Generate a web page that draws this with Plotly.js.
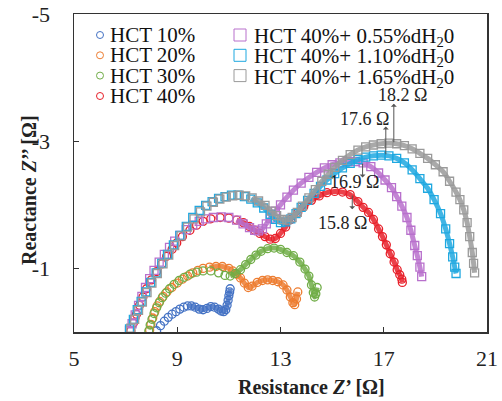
<!DOCTYPE html>
<html><head><meta charset="utf-8">
<script src="https://cdn.plot.ly/plotly-3.0.1.min.js"></script>
<style>html,body{margin:0;padding:0;background:#fff;}#chart{width:502px;height:401px;}</style>
</head><body><div id="chart"></div>
<script>
// ---- data ----
const seriesNames = ['HCT 10%','HCT 20%','HCT 30%','HCT 40%',
  'HCT 40%+ 0.55%dH<sub>2</sub>0','HCT 40%+ 1.10%dH<sub>2</sub>0','HCT 40%+ 1.65%dH<sub>2</sub>0'];

const hct10X = [8.2,8.35,8.5,8.65,8.8,8.95,9.1,9.25,9.4,9.55,9.7,9.85,10.0,10.15,10.3,10.45,10.6,10.7,10.8,10.88,10.93,10.97,11.0,11.03,11.05];
const hct10Y = [-0.02,-0.1,-0.17,-0.23,-0.28,-0.32,-0.36,-0.39,-0.41,-0.41,-0.39,-0.36,-0.35,-0.37,-0.4,-0.39,-0.36,-0.33,-0.32,-0.35,-0.42,-0.5,-0.57,-0.63,-0.68];

const hct20X = [7.93,7.98,8.05,8.13,8.22,8.32,8.45,8.6,8.79,9.0,9.2,9.4,9.6,9.8,10.0,10.25,10.5,10.75,11.0,11.15,11.3,11.45,11.6,11.75,11.9,12.1,12.3,12.5,12.7,12.9,13.1,13.25,13.38,13.48,13.55,13.62,13.67];
const hct20Y = [-0.03,-0.12,-0.22,-0.32,-0.41,-0.48,-0.56,-0.63,-0.7,-0.77,-0.83,-0.88,-0.93,-0.97,-1.0,-1.02,-1.03,-1.03,-1.0,-0.96,-0.91,-0.85,-0.77,-0.7,-0.72,-0.78,-0.81,-0.82,-0.81,-0.79,-0.74,-0.66,-0.55,-0.46,-0.43,-0.52,-0.63];

const hct30X = [7.9,7.95,8.02,8.1,8.2,8.3,8.42,8.55,8.7,8.88,9.07,9.27,9.5,9.75,10.0,10.3,10.6,10.85,11.05,11.25,11.45,11.65,11.85,12.05,12.25,12.5,12.75,13.0,13.25,13.5,13.75,13.95,14.1,14.2,14.27,14.32,14.37,14.42];
const hct30Y = [-0.02,-0.11,-0.2,-0.29,-0.38,-0.46,-0.54,-0.61,-0.68,-0.75,-0.81,-0.86,-0.91,-0.94,-0.96,-0.96,-0.93,-0.89,-0.88,-0.92,-0.98,-1.06,-1.14,-1.21,-1.27,-1.31,-1.32,-1.3,-1.25,-1.2,-1.1,-0.99,-0.88,-0.74,-0.62,-0.55,-0.6,-0.7];

const hct40X = [7.2,7.3,7.42,7.54,7.67,7.81,8.0,8.2,8.4,8.59,8.8,8.98,9.2,9.49,9.75,10.0,10.3,10.66,11.0,11.3,11.56,11.8,12.0,12.2,12.4,12.6,12.8,13.0,13.2,13.4,13.67,13.9,14.2,14.5,14.8,15.1,15.4,15.7,16.0,16.2,16.41,16.6,16.8,16.95,17.1,17.25,17.4,17.52,17.62,17.7,17.72];
const hct40Y = [-0.02,-0.14,-0.28,-0.42,-0.55,-0.68,-0.82,-0.95,-1.07,-1.19,-1.3,-1.4,-1.5,-1.6,-1.68,-1.74,-1.78,-1.8,-1.79,-1.76,-1.72,-1.66,-1.6,-1.55,-1.5,-1.46,-1.47,-1.55,-1.65,-1.77,-1.88,-1.97,-2.07,-2.14,-2.19,-2.21,-2.2,-2.16,-2.05,-1.96,-1.88,-1.77,-1.62,-1.5,-1.37,-1.23,-1.1,-0.98,-0.9,-0.83,-0.78];

const w055X = [7.15,7.25,7.37,7.5,7.63,7.77,7.93,8.1,8.3,8.5,8.7,8.9,9.1,9.35,9.6,9.85,10.1,10.4,10.7,11.0,11.3,11.55,11.8,12.0,12.15,12.3,12.45,12.6,12.8,13.0,13.25,13.5,13.8,14.1,14.4,14.7,15.0,15.3,15.6,15.9,16.2,16.5,16.8,17.05,17.3,17.5,17.7,17.9,18.05,18.2,18.3,18.4,18.47];
const w055Y = [-0.02,-0.13,-0.27,-0.42,-0.56,-0.7,-0.84,-0.97,-1.1,-1.22,-1.33,-1.43,-1.52,-1.61,-1.68,-1.74,-1.78,-1.8,-1.81,-1.8,-1.76,-1.7,-1.64,-1.6,-1.59,-1.62,-1.7,-1.79,-1.9,-2.0,-2.12,-2.23,-2.34,-2.43,-2.51,-2.58,-2.63,-2.66,-2.68,-2.68,-2.66,-2.6,-2.5,-2.39,-2.27,-2.13,-1.98,-1.8,-1.6,-1.36,-1.2,-1.02,-0.87];

const w110X = [7.15,7.3,7.45,7.6,7.78,7.97,8.18,8.4,8.62,8.85,9.1,9.35,9.6,9.85,10.1,10.35,10.6,10.85,11.1,11.35,11.6,11.85,12.1,12.35,12.6,12.8,13.0,13.2,13.4,13.6,13.8,14.05,14.3,14.55,14.8,15.1,15.4,15.7,16.0,16.3,16.6,16.9,17.2,17.5,17.8,18.1,18.4,18.7,18.95,19.2,19.4,19.55,19.67,19.75,19.8];
const w110Y = [-0.05,-0.2,-0.35,-0.48,-0.63,-0.78,-0.93,-1.08,-1.22,-1.37,-1.52,-1.66,-1.8,-1.91,-1.99,-2.05,-2.1,-2.13,-2.15,-2.15,-2.13,-2.09,-2.03,-1.95,-1.85,-1.77,-1.72,-1.73,-1.78,-1.86,-1.96,-2.07,-2.18,-2.29,-2.39,-2.49,-2.58,-2.65,-2.71,-2.75,-2.77,-2.78,-2.77,-2.73,-2.66,-2.55,-2.41,-2.26,-2.08,-1.86,-1.62,-1.39,-1.18,-1.02,-0.92];

const w165X = [7.2,7.35,7.5,7.65,7.83,8.02,8.23,8.45,8.67,8.9,9.15,9.4,9.65,9.9,10.15,10.4,10.65,10.9,11.15,11.4,11.65,11.9,12.15,12.4,12.65,12.85,13.05,13.25,13.45,13.65,13.85,14.1,14.35,14.6,14.85,15.1,15.4,15.7,16.0,16.3,16.6,16.9,17.2,17.5,17.8,18.1,18.4,18.7,19.0,19.3,19.55,19.8,19.95,20.1,20.23,20.33,20.43,20.48,20.52];
const w165Y = [-0.06,-0.2,-0.34,-0.47,-0.62,-0.77,-0.92,-1.07,-1.21,-1.36,-1.51,-1.65,-1.78,-1.89,-1.98,-2.04,-2.09,-2.12,-2.14,-2.15,-2.14,-2.11,-2.06,-1.99,-1.9,-1.83,-1.77,-1.76,-1.8,-1.88,-1.98,-2.11,-2.24,-2.37,-2.48,-2.59,-2.7,-2.79,-2.86,-2.91,-2.94,-2.96,-2.97,-2.96,-2.93,-2.88,-2.81,-2.73,-2.63,-2.52,-2.37,-2.2,-2.08,-1.92,-1.72,-1.5,-1.25,-1.08,-0.93];

// peak annotations: label, arrow x, arrow tail y (at the peak)
const peakLabels = ['18.2 Ω','17.6 Ω','16.9 Ω','15.8 Ω'];
const peakX      = [17.39, 17.08, 16.18, 15.78];
const peakY      = [-2.96, -2.77, -2.67, -2.17];

const xTicks = [5,9,13,17,21];
const yTicks = [-5,-3,-1];
const xTitle = '<b>Resistance <i>Z</i>’ [Ω]</b>';
const yTitle = '<b>Reactance <i>Z</i>’’ [Ω]</b>';

// ---- styling ----
const FONT = 'Liberation Serif, serif';
const colors = ['#4472C4','#ED7D31','#70AD47','#E8202A','#B870CC','#1FA8E0','#9A9A9A'];
const symbols = ['circle-open','circle-open','circle-open','circle-open','square-open','square-open','square-open'];
const denseFrom = [9.3, 10.2, 10.9, 11.3, 11.3, 11.7, 11.8];
const xs = [hct10X,hct20X,hct30X,hct40X,w055X,w110X,w165X];
const ys = [hct10Y,hct20Y,hct30Y,hct40Y,w055Y,w110Y,w165Y];

const traces = [];
seriesNames.forEach((n,i)=>{
  // dense part of the sweep: markers overlap into a band
  const bx=[], by=[];
  xs[i].forEach((v,k)=>{ if (v>=denseFrom[i]) { bx.push(v); by.push(ys[i][k]); } });
  traces.push({type:'scatter', mode:'lines', name:n+' band', x:bx, y:by, showlegend:false,
    line:{color:colors[i], width:5, shape:'spline', smoothing:0.6}, opacity:0.85, hoverinfo:'skip'});
  traces.push({type:'scatter', mode:'markers', name:n, x:xs[i], y:ys[i],
    marker:{symbol:symbols[i], size:8, color:colors[i], line:{width:1.3, color:colors[i]}}, hoverinfo:'skip'});
});

// legend drawn as text (two columns, tight rows as in the reference)
const plotL=74, plotR=487, plotT=14, plotB=332;
const px2paperX = p => (p-plotL)/(plotR-plotL);
const py2paperY = p => (plotB-p)/(plotB-plotT);
const rowsY = [35,55.3,75.6,96];
const annotations = [];
const shapes = [];
seriesNames.forEach((n,i)=>{
  const col = i<4 ? 0 : 1;
  const row = i<4 ? i : i-4;
  const symX = col===0 ? 100 : 240;
  const txtX = col===0 ? 108 : 252;
  const yc = rowsY[row];
  annotations.push({xref:'paper',yref:'paper',x:px2paperX(txtX),y:py2paperY(yc + (col===1?2:0)),xanchor:'left',yanchor:'middle',
    text:n, showarrow:false, font:{family:FONT,size:21,color:'#111'}});
  const half = col===0 ? 3.5 : 6;
  shapes.push({type: col===0?'circle':'rect', xref:'paper', yref:'paper', xsizemode:'pixel', ysizemode:'pixel',
    xanchor:px2paperX(symX), yanchor:py2paperY(yc), x0:-half, x1:half, y0:-half, y1:half,
    line:{color:colors[i], width:1}, fillcolor:'rgba(0,0,0,0)'});
});

// axis titles placed where the reference has them
annotations.push({xref:'paper',yref:'paper',x:px2paperX(311),y:py2paperY(387),xanchor:'center',yanchor:'middle',
  text:xTitle,showarrow:false,font:{family:FONT,size:20,color:'#222'}});
annotations.push({xref:'paper',yref:'paper',x:px2paperX(29),y:py2paperY(190),xanchor:'center',yanchor:'middle',
  text:yTitle,textangle:-90,showarrow:false,font:{family:FONT,size:20,color:'#222'}});

// peak arrows + labels
const arrowDir = [1,1,-1,-1];   // 1 = arrow points upward, -1 = downward
const labelOffX = [0.32, -0.83, -0.32, -0.39];
const labelOffY = [-0.76, -0.58, 0.31, 0.45];
const arrowLen  = [0.63, 0.46, 0.24, 0.24];
peakLabels.forEach((t,i)=>{
  const head = peakY[i] - arrowDir[i]*arrowLen[i];
  annotations.push({xref:'x',yref:'y',axref:'x',ayref:'y',x:peakX[i],y:head,ax:peakX[i],ay:peakY[i],
    text:'',showarrow:true,arrowhead:1,arrowsize:1,arrowwidth:1,arrowcolor:'#555',standoff:0,startstandoff:0});
  annotations.push({xref:'x',yref:'y',x:peakX[i]+labelOffX[i],y:peakY[i]+labelOffY[i],text:t,showarrow:false,
    xanchor:'center',yanchor:'middle',font:{family:FONT,size:18,color:'#222'}});
});

const layout = {
  width:502, height:401,
  margin:{l:plotL, r:502-plotR, t:plotT, b:401-plotB},
  paper_bgcolor:'#fff', plot_bgcolor:'#fff',
  showlegend:false,
  font:{family:FONT, color:'#222', size:20},
  xaxis:{range:[5,21], tickvals:xTicks, ticktext:xTicks.map(String), ticks:'inside', ticklen:5, tickwidth:1,
    tickcolor:'#333', showline:true, linecolor:'#333', linewidth:1.5, mirror:true, showgrid:false, zeroline:false,
    tickfont:{family:FONT,size:22,color:'#222'}, ticklabelstandoff:6},
  yaxis:{range:[0,-5], tickvals:yTicks, ticktext:yTicks.map(String), ticks:'inside', ticklen:5, tickwidth:1,
    tickcolor:'#333', showline:true, linecolor:'#333', linewidth:1.5, mirror:true, showgrid:false, zeroline:false,
    tickfont:{family:FONT,size:22,color:'#222'}, ticklabelstandoff:18},
  annotations:annotations,
  shapes:shapes
};

Plotly.newPlot('chart', traces, layout, {displayModeBar:false, staticPlot:true});
</script>
</body></html>
